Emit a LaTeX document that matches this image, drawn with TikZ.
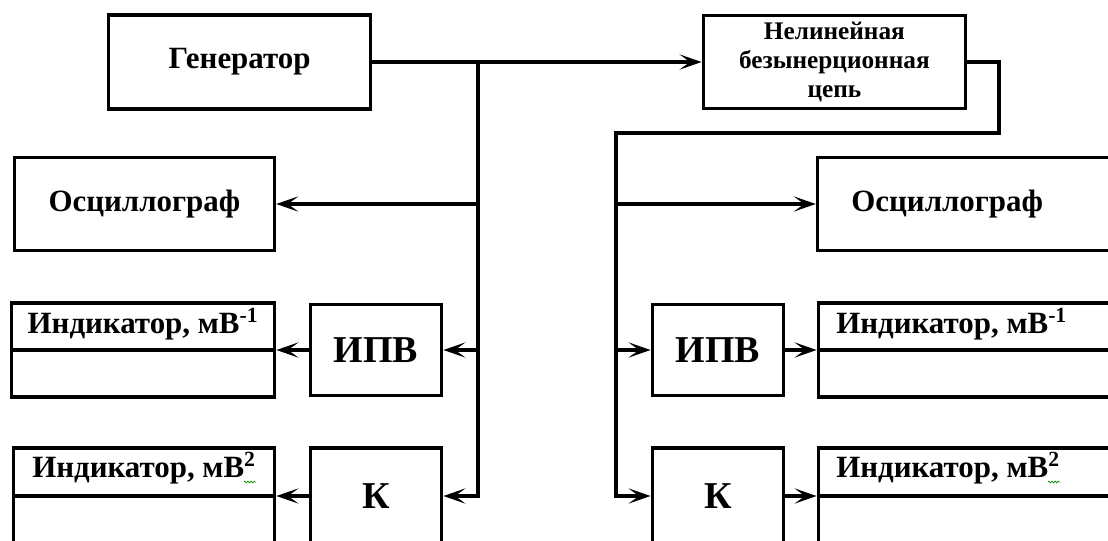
\documentclass[tikz,border=0pt]{standalone}
\usepackage{fontspec}
\setmainfont{Liberation Serif}
\usetikzlibrary{arrows.meta,decorations.pathmorphing}
\begin{document}
\begin{tikzpicture}[
        blk/.style = {draw, line width=2.6pt, rectangle, inner sep=0pt, font=\bfseries\fontsize{22}{26}\selectfont},
        wire/.style = {line width=2.6pt},
        arr/.style = {wire, -{Stealth[length=5.5mm, width=3.8mm, inset=2.6mm]}},
        lbl/.style = {inner sep=0pt, font=\bfseries\fontsize{22}{26}\selectfont},
        big/.style = {font=\bfseries\fontsize{27}{30}\selectfont},
        squig/.style = {green!55!black, line width=0.5pt, decorate, decoration={zigzag, amplitude=0.6pt, segment length=2.2pt}}
    ]
        \useasboundingbox (0,0) rectangle (27.7,-13.5);
        \clip (0,0) rectangle (27.7,-13.5);
        \fill[white] (0,0) rectangle (27.7,-13.5);

        % top row
        \node[blk, minimum width=6.55cm, minimum height=2.35cm] (gen) at (5.99,-1.55) {Генератор};
        \node[blk, minimum width=6.55cm, minimum height=2.33cm, align=center,
              font=\bfseries\fontsize{18}{20.5}\selectfont] (nl) at (20.86,-1.55) {Нелинейная\\безынерционная\\цепь};

        % oscillographs
        \node[blk, minimum width=6.5cm, minimum height=2.33cm] (osc1) at (3.61,-5.1) {Осциллограф};
        \node[blk, minimum width=9cm, minimum height=2.33cm] (osc2) at (24.94,-5.1) {};
        \node[lbl] (osc2t) at (23.68,-5.1) {Осциллограф};

        % converters
        \node[blk, big, minimum width=3.28cm, minimum height=2.28cm] (ipv1) at (9.4,-8.75) {ИПВ};
        \node[blk, big, minimum width=3.28cm, minimum height=2.4cm] (k1) at (9.4,-12.4) {К};
        \node[blk, big, minimum width=3.28cm, minimum height=2.28cm] (ipv2) at (17.95,-8.75) {ИПВ};
        \node[blk, big, minimum width=3.28cm, minimum height=2.4cm] (k2) at (17.95,-12.4) {К};

        % indicators
        \node[blk, minimum width=6.58cm, minimum height=2.35cm] (ind1) at (3.575,-8.75) {};
        \node[blk, minimum width=6.53cm, minimum height=2.4cm] (ind2) at (3.6,-12.4) {};
        \node[blk, minimum width=9cm, minimum height=2.35cm] (ind3) at (24.96,-8.75) {};
        \node[blk, minimum width=9cm, minimum height=2.4cm] (ind4) at (24.96,-12.4) {};
        \draw[wire] (ind1.west) -- (ind1.east);
        \draw[wire] (ind2.west) -- (ind2.east);
        \draw[wire] (ind3.west) -- (ind3.east);
        \draw[wire] (ind4.west) -- (ind4.east);
        \node[lbl, anchor=base] (ind1t) at ([yshift=0.42cm]ind1.center) {Индикатор, мВ\textsuperscript{-1}};
        \node[lbl, anchor=base] (ind2t) at ([yshift=0.47cm]ind2.center) {Индикатор, мВ\textsuperscript{2}};
        \node[lbl, anchor=base west] (ind3t) at (20.9,-8.33) {Индикатор, мВ\textsuperscript{-1}};
        \node[lbl, anchor=base west] (ind4t) at (20.9,-11.93) {Индикатор, мВ\textsuperscript{2}};
        \draw[squig] ([xshift=-0.3cm,yshift=-0.12cm]ind2t.base east) -- ([yshift=-0.12cm]ind2t.base east);
        \draw[squig] ([xshift=-0.3cm,yshift=-0.12cm]ind4t.base east) -- ([yshift=-0.12cm]ind4t.base east);

        % left branch
        \coordinate (t1) at (11.95,-1.55);
        \draw[arr] (gen.east) -- (nl.west);
        \draw[arr] (t1) |- (k1.east);
        \draw[arr] (t1 |- osc1) -- (osc1.east);
        \draw[arr] (t1 |- ipv1) -- (ipv1.east);
        \draw[arr] (ipv1.west) -- (ind1.east);
        \draw[arr] (k1.west) -- (ind2.east);

        % right branch
        \coordinate (r1) at (24.98,-3.33);
        \coordinate (t2) at (15.4,-3.33);
        \draw[arr] (nl.east) -| (r1) -- (t2) |- (k2.west);
        \draw[arr] (t2 |- osc2) -- (osc2.west);
        \draw[arr] (t2 |- ipv2) -- (ipv2.west);
        \draw[arr] (ipv2.east) -- (ind3.west);
        \draw[arr] (k2.east) -- (ind4.west);
    \end{tikzpicture}
\end{document}
